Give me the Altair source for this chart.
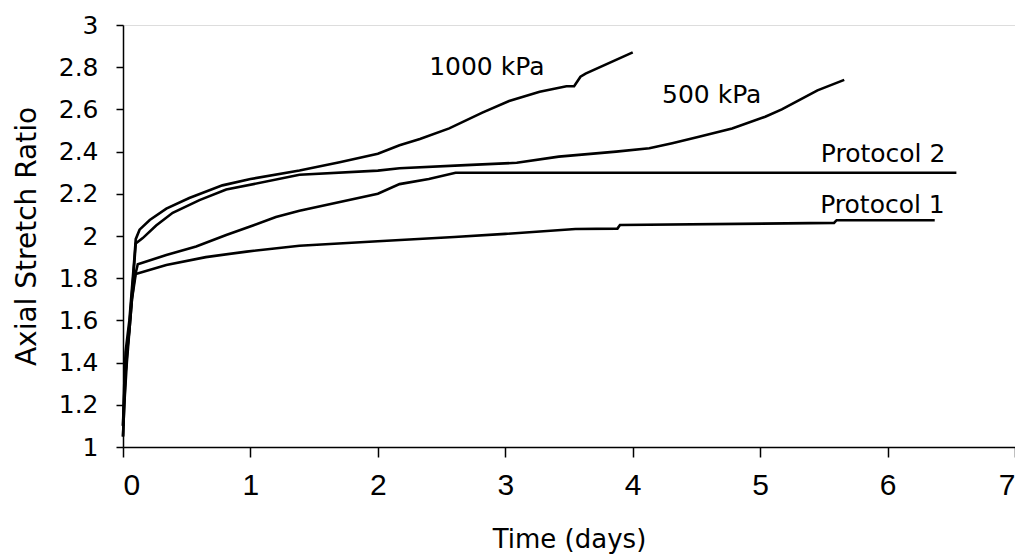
import altair as alt
import pandas as pd

# --- data ---
kpa1000_x = [0, 0.01, 0.02, 0.03, 0.05, 0.07, 0.09, 0.1, 0.13, 0.21, 0.34, 0.52, 0.78, 1.0, 1.385, 1.7, 2.0, 2.17, 2.33, 2.56, 2.82, 3.03, 3.27, 3.48, 3.54, 3.59, 3.63, 4.0]
kpa1000_y = [1.1, 1.3, 1.45, 1.5, 1.6, 1.75, 1.9, 1.985, 2.03, 2.076, 2.13, 2.18, 2.24, 2.27, 2.31, 2.35, 2.39, 2.43, 2.46, 2.51, 2.585, 2.64, 2.684, 2.71, 2.71, 2.755, 2.77, 2.87]

kpa500_x = [0, 0.01, 0.02, 0.04, 0.06, 0.08, 0.1, 0.155, 0.26, 0.39, 0.6, 0.81, 1.385, 2.0, 2.17, 2.69, 3.09, 3.42, 3.87, 4.13, 4.31, 4.52, 4.78, 5.04, 5.17, 5.31, 5.45, 5.66]
kpa500_y = [1.05, 1.2, 1.35, 1.5, 1.65, 1.8, 1.965, 1.99, 2.05, 2.11, 2.17, 2.22, 2.29, 2.31, 2.321, 2.336, 2.347, 2.376, 2.40, 2.416, 2.44, 2.47, 2.51, 2.565, 2.60, 2.645, 2.69, 2.74]

prot2_x = [0, 0.01, 0.03, 0.05, 0.07, 0.09, 0.116, 0.34, 0.574, 0.81, 1.02, 1.2, 1.385, 2.0, 2.17, 2.4, 2.61, 6.54]
prot2_y = [1.1, 1.25, 1.45, 1.55, 1.7, 1.8, 1.866, 1.91, 1.95, 2.005, 2.05, 2.09, 2.12, 2.2, 2.246, 2.27, 2.30, 2.30]

prot1_x = [0, 0.01, 0.03, 0.05, 0.07, 0.1, 0.34, 0.65, 0.97, 1.385, 2.0, 2.6, 3.0, 3.55, 3.88, 3.9, 5.58, 5.6, 6.37]
prot1_y = [1.05, 1.2, 1.4, 1.55, 1.7, 1.82, 1.863, 1.9, 1.926, 1.954, 1.975, 1.995, 2.01, 2.033, 2.035, 2.052, 2.062, 2.075, 2.075]

label_text = ["1000 kPa", "500 kPa", "Protocol 2", "Protocol 1"]
label_x = [2.855, 4.62, 5.965, 5.96]
label_y = [2.763, 2.63, 2.352, 2.109]

x_ticks = [0, 1, 2, 3, 4, 5, 6, 7]
y_ticks = [1, 1.2, 1.4, 1.6, 1.8, 2, 2.2, 2.4, 2.6, 2.8, 3]

rows = []
for name, xs_, ys_ in [("1000 kPa", kpa1000_x, kpa1000_y), ("500 kPa", kpa500_x, kpa500_y),
                       ("Protocol 2", prot2_x, prot2_y), ("Protocol 1", prot1_x, prot1_y)]:
    for i, (a, b) in enumerate(zip(xs_, ys_)):
        rows.append({"series": name, "t": a, "r": b, "order": i})
df = pd.DataFrame(rows)
lab = pd.DataFrame({"text": label_text, "t": label_x, "r": label_y})

WIDE = "DejaVu Sans"
NARROW = "Liberation Sans"

xs = alt.Scale(domain=[0, 7], nice=False, zero=False)
ys = alt.Scale(domain=[1, 3], nice=False, zero=False)

xaxis = alt.Axis(values=x_ticks, format="d", grid=False, domainColor="black", tickColor="black",
                 domainWidth=1.5, tickWidth=1.5,
                 tickSize=10, labelPadding=13, labelFontSize=30, labelFont=NARROW, labelColor="black",
                 title="Time (days)", titleFont=WIDE, titleFontSize=26, titleFontWeight="normal",
                 titleColor="black", titlePadding=26)
yaxis = alt.Axis(values=y_ticks, format=".1~f", grid=False, domainColor="black", tickColor="black",
                 domainWidth=1.5, tickWidth=1.5,
                 tickSize=7, labelPadding=18, labelFontSize=25, labelFont=WIDE, labelColor="black",
                 title="Axial Stretch Ratio", titleFont=WIDE, titleFontSize=28, titleFontWeight="normal",
                 titleColor="black", titlePadding=17)

lines = alt.Chart(df).mark_line(color="black", strokeWidth=2.6).encode(
    x=alt.X("t:Q", scale=xs, axis=xaxis),
    y=alt.Y("r:Q", scale=ys, axis=yaxis),
    detail="series:N",
    order="order:Q",
)

labels = alt.Chart(lab).mark_text(font=WIDE, fontSize=25, color="black", align="center", baseline="alphabetic").encode(
    x=alt.X("t:Q", scale=xs),
    y=alt.Y("r:Q", scale=ys),
    text="text:N",
)

chart = (lines + labels).properties(
    width=892, height=422,
    autosize=alt.AutoSizeParams(type="none"),
    padding={"left": 115, "top": 17, "right": 0, "bottom": 109},
).configure_view(stroke=None).configure(background="white")

chart.save("out.html", embed_options={"renderer": "svg", "actions": False})
